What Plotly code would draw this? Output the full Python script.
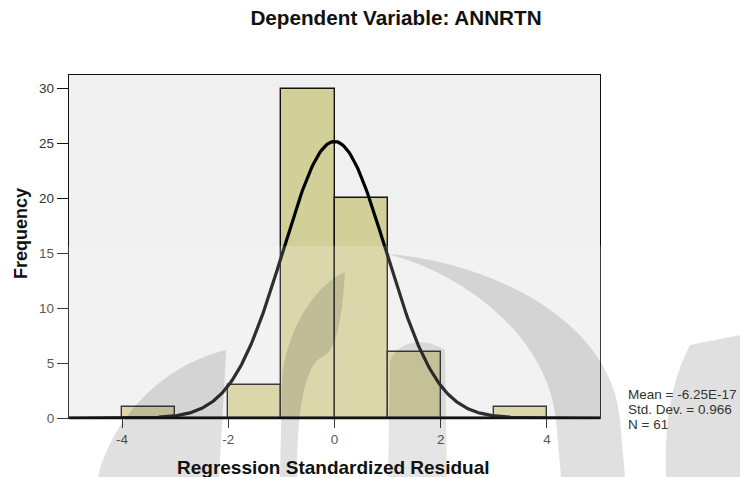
import numpy as np
import plotly.graph_objects as go

# ---- data ----
bin_centers = [-3.5, -2.5, -1.5, -0.5, 0.5, 1.5, 2.5, 3.5]
bin_counts = [1, 0, 3, 30, 20, 6, 0, 1]
bin_width = 1.0
mean_val = -6.25e-17
std_val = 0.966
n_val = 61
x_ticks = [-4, -2, 0, 2, 4]
stats_lines = ["Mean = -6.25E-17", "Std. Dev. = 0.966", "N = 61"]

# normal curve implied by the stats shown on the chart
xc = np.linspace(-5, 5, 401)
yc = n_val * bin_width / (std_val * np.sqrt(2 * np.pi)) * np.exp(-0.5 * ((xc - mean_val) / std_val) ** 2)

W, H = 740, 477
L, R, T, B = 69, 140, 75, 59
PW, PH = W - L - R, H - T - B
FONT = "Liberation Sans, Arial, sans-serif"


def P(px, py):
    return f"{(px - L) / PW:.4f},{(H - B - py) / PH:.4f}"


fig = go.Figure()
fig.add_trace(go.Bar(
    x=bin_centers, y=bin_counts, width=bin_width,
    marker=dict(color="#d3cf99", line=dict(color="#111111", width=1.4)),
    hoverinfo="skip", showlegend=False))
fig.add_trace(go.Scatter(
    x=xc, y=yc, mode="lines", line=dict(color="#000000", width=3.2),
    hoverinfo="skip", showlegend=False))

shapes = []
# lighter lower band
shapes.append(dict(type="rect", xref="paper", yref="paper", layer="above",
                   x0=-L / PW, x1=(W - L) / PW, y0=(H - B - H) / PH, y1=(H - B - 246) / PH,
                   fillcolor="rgba(255,255,255,0.18)", line=dict(width=0)))
grey = "rgba(0,0,0,0.12)"


def region(path, col=grey):
    return dict(type="path", xref="paper", yref="paper", layer="above",
                path=path, fillcolor=col, line=dict(width=0))


# right outer crescent
shapes.append(region(
    f"M {P(388, 254)} C {P(490, 262)} {P(612, 320)} {P(620, 420)} L {P(625, 477)} "
    f"L {P(561, 477)} L {P(556, 420)} C {P(548, 340)} {P(470, 276)} {P(388, 254)} Z"))
# left inner crescent over the tallest bar
shapes.append(region(
    f"M {P(345, 272)} C {P(315, 285)} {P(286, 330)} {P(282, 380)} L {P(280, 477)} "
    f"L {P(297, 477)} C {P(297, 410)} {P(305, 365)} {P(322, 357)} "
    f"C {P(336, 352)} {P(342, 320)} {P(345, 272)} Z"))
# inner right element
shapes.append(region(
    f"M {P(388, 477)} L {P(390, 362)} C {P(396, 342)} {P(422, 336)} {P(445, 350)} L {P(447, 477)} Z",
    "rgba(0,0,0,0.10)"))
# left outer piece
shapes.append(region(
    f"M {P(98, 477)} C {P(112, 420)} {P(160, 366)} {P(226, 350)} "
    f"C {P(224, 400)} {P(221, 440)} {P(219, 477)} Z"))
# far right piece
shapes.append(region(
    f"M {P(690, 345)} C {P(672, 380)} {P(664, 420)} {P(666, 477)} L {P(740, 477)} L {P(740, 335)} Z"))
# thick baseline
shapes.append(dict(type="line", xref="paper", yref="paper", layer="above",
                   x0=0, x1=1, y0=0, y1=0, line=dict(color="#111111", width=2.5)))

annotations = [
    dict(text="<b>Regression Standardized Residual</b>", xref="paper", yref="paper",
         x=(333 - L) / PW, y=(H - B - 467) / PH, xanchor="center", yanchor="middle",
         showarrow=False, font=dict(family=FONT, size=19, color="#111111")),
    dict(text="<b>Frequency</b>", xref="paper", yref="paper", textangle=-90,
         x=(21 - L) / PW, y=(H - B - 234) / PH, xanchor="center", yanchor="middle",
         showarrow=False, font=dict(family=FONT, size=18, color="#111111")),
]
for line, py in zip(stats_lines, [394, 409.5, 424.5]):
    annotations.append(dict(text=line, xref="paper", yref="paper",
                            x=(626 - L) / PW, y=(H - B - py) / PH, xanchor="left", yanchor="middle",
                            showarrow=False, font=dict(family=FONT, size=13.5, color="#333333")))

fig.update_layout(
    width=W, height=H,
    margin=dict(l=L, r=R, t=T, b=B, pad=0),
    paper_bgcolor="white", plot_bgcolor="#f0f0f0",
    bargap=0,
    title=dict(text="<b>Dependent Variable: ANNRTN</b>", x=(396 - L) / PW, xref="paper",
               xanchor="center", y=1 - 18 / H, yanchor="middle",
               font=dict(family=FONT, size=20.7, color="#111111")),
    xaxis=dict(range=[-5, 5], tickvals=x_ticks, ticktext=[str(v) for v in x_ticks],
               ticks="outside", ticklen=9, tickwidth=1.3, tickcolor="#111111",
               showline=True, linecolor="#111111", linewidth=1.3, mirror=True,
               showgrid=False, zeroline=False,
               tickfont=dict(family=FONT, size=13.5, color="#333333")),
    yaxis=dict(range=[0, 31.25], dtick=5, tick0=0,
               ticks="outside", ticklen=11, tickwidth=1.3, tickcolor="#111111",
               showline=True, linecolor="#111111", linewidth=1.3, mirror=True,
               showgrid=False, zeroline=False,
               tickfont=dict(family=FONT, size=13.5, color="#333333")),
    shapes=shapes, annotations=annotations,
)

fig.write_html("out.html", config={"displayModeBar": False},
               post_script="document.body.style.margin='0';document.body.style.padding='0';")
